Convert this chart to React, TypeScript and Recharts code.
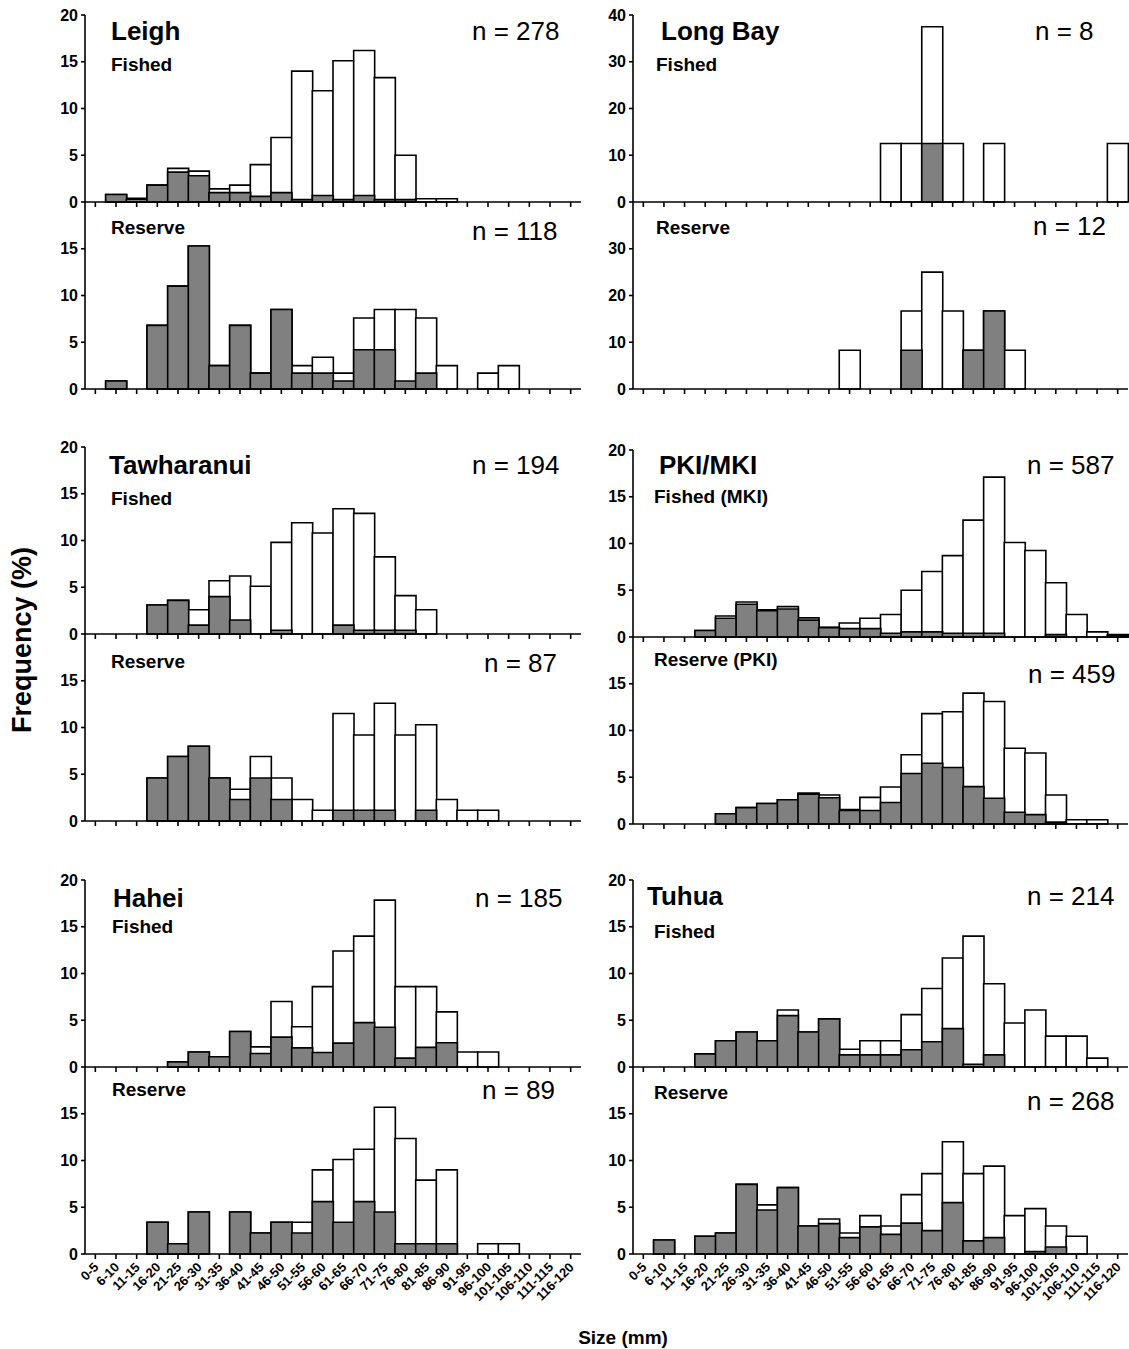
import React from 'react';
import { BarChart, Bar, XAxis, YAxis } from 'recharts';

const sizeClasses = ['0-5','6-10','11-15','16-20','21-25','26-30','31-35','36-40','41-45','46-50','51-55','56-60','61-65','66-70','71-75','76-80','81-85','86-90','91-95','96-100','101-105','106-110','111-115','116-120'];

// white bar = total frequency (%), grey bar = overlaid portion
const leighFishedTotal = [0,0.8,0.4,1.8,3.6,3.3,1.4,1.8,4.0,6.9,14.0,11.9,15.1,16.2,13.3,5.0,0.35,0.35,0,0,0,0,0,0];
const leighFishedGrey = [0,0.8,0.3,1.8,3.2,2.8,1.0,1.0,0.6,1.0,0.25,0.7,0.25,0.7,0.25,0.25,0,0,0,0,0,0,0,0];
const leighReserveTotal = [0,0.85,0,6.8,11.0,15.3,2.5,6.8,1.7,8.5,2.5,3.4,1.7,7.6,8.5,8.5,7.6,2.5,0,1.7,2.5,0,0,0];
const leighReserveGrey = [0,0.85,0,6.8,11.0,15.3,2.5,6.8,1.7,8.5,1.7,1.7,0.85,4.2,4.2,0.85,1.7,0,0,0,0,0,0,0];

const longBayFishedTotal = [0,0,0,0,0,0,0,0,0,0,0,0,12.5,12.5,37.5,12.5,0,12.5,0,0,0,0,0,12.5];
const longBayFishedGrey = [0,0,0,0,0,0,0,0,0,0,0,0,0,0,12.5,0,0,0,0,0,0,0,0,0];
const longBayReserveTotal = [0,0,0,0,0,0,0,0,0,0,8.3,0,0,16.7,25,16.7,8.3,16.7,8.3,0,0,0,0,0];
const longBayReserveGrey = [0,0,0,0,0,0,0,0,0,0,0,0,0,8.3,0,0,8.3,16.7,0,0,0,0,0,0];

const tawFishedTotal = [0,0,0,3.1,3.6,2.6,5.7,6.2,5.1,9.8,11.9,10.8,13.4,12.9,8.25,4.1,2.6,0,0,0,0,0,0,0];
const tawFishedGrey = [0,0,0,3.1,3.6,0.95,4.0,1.5,0,0.4,0,0,0.95,0.4,0.4,0.4,0,0,0,0,0,0,0,0];
const tawReserveTotal = [0,0,0,4.6,6.9,8.0,4.6,3.4,6.9,4.6,2.3,1.15,11.5,9.2,12.6,9.2,10.3,2.3,1.15,1.15,0,0,0,0];
const tawReserveGrey = [0,0,0,4.6,6.9,8.0,4.6,2.3,4.6,2.3,0,0,1.15,1.15,1.15,0,1.15,0,0,0,0,0,0,0];

const pkiFishedTotal = [0,0,0,0.7,2.25,3.75,2.9,3.25,2.05,1.05,1.5,2.0,2.4,5.0,7.0,8.7,12.5,17.1,10.1,9.25,5.8,2.4,0.55,0.25];
const pkiFishedGrey = [0,0,0,0.7,2.0,3.5,2.8,3.0,1.8,1.0,0.9,0.9,0.4,0.55,0.55,0.4,0.4,0.4,0,0,0.25,0,0,0.15];
const pkiReserveTotal = [0,0,0,0,1.1,1.75,2.2,2.6,3.3,3.1,1.55,2.85,3.95,7.4,11.8,12.0,14.0,13.1,8.1,7.6,3.1,0.45,0.45,0];
const pkiReserveGrey = [0,0,0,0,1.1,1.75,2.2,2.6,3.2,2.8,1.45,1.45,2.3,5.4,6.5,6.05,4.0,2.75,1.25,1.0,0.2,0,0,0];

const haheiFishedTotal = [0,0,0,0,0.55,1.6,1.1,3.8,2.15,7.0,4.3,8.6,12.4,14.0,17.85,8.6,8.6,5.9,1.6,1.6,0,0,0,0];
const haheiFishedGrey = [0,0,0,0,0.55,1.6,1.1,3.8,1.45,3.2,2.05,1.55,2.55,4.75,4.25,0.95,2.1,2.6,0,0,0,0,0,0];
const haheiReserveTotal = [0,0,0,3.4,1.1,4.5,0,4.5,2.25,3.4,3.4,9.0,10.1,11.2,15.7,12.35,7.9,9.0,0,1.1,1.1,0,0,0];
const haheiReserveGrey = [0,0,0,3.4,1.1,4.5,0,4.5,2.25,3.4,2.25,5.6,3.4,5.6,4.5,1.1,1.1,1.1,0,0,0,0,0,0];

const tuhuaFishedTotal = [0,0,0,1.4,2.8,3.75,2.8,6.1,3.75,5.15,1.9,2.8,2.8,5.6,8.4,11.65,14.0,8.9,4.7,6.1,3.3,3.3,0.95,0];
const tuhuaFishedGrey = [0,0,0,1.4,2.8,3.75,2.8,5.5,3.75,5.15,1.3,1.3,1.3,1.85,2.7,4.1,0.3,1.3,0,0,0,0,0,0];
const tuhuaReserveTotal = [0,1.5,0,1.9,2.25,7.45,5.25,7.1,3.0,3.75,2.25,4.1,3.0,6.35,8.6,12.0,8.6,9.4,4.1,4.85,3.0,1.9,0,0];
const tuhuaReserveGrey = [0,1.5,0,1.9,2.25,7.45,4.7,7.1,3.0,3.25,1.75,2.9,2.1,3.3,2.5,5.5,1.4,1.75,0,0.25,0.75,0,0,0];

const ticks20Top = [0, 5, 10, 15, 20];
const ticks20 = [0, 5, 10, 15];
const ticks40Top = [0, 10, 20, 30, 40];
const ticks40 = [0, 10, 20, 30];

const FONT = '"Liberation Sans", Arial, Helvetica, sans-serif';
const Y_W = 50;
const PAD_T = 14;
const PAD_R = 2;

function XTick(props: any) {
  const { x, y, payload } = props;
  const ax = x + 4;
  const ay = y + 7;
  return (
    <text
      x={ax}
      y={ay}
      transform={`rotate(-45, ${ax}, ${ay})`}
      textAnchor="end"
      fontSize={13}
      fontWeight="bold"
      fontFamily={FONT}
      fill="#000"
    >
      {payload.value}
    </text>
  );
}

const EmptyTick = () => <g />;

type PanelProps = {
  left: number;
  top: number;
  plotW: number;
  plotH: number;
  totals: number[];
  greys: number[];
  yMax: number;
  yTicks: number[];
  showLabels?: boolean;
};

function Panel({ left, top, plotW, plotH, totals, greys, yMax, yTicks, showLabels }: PanelProps) {
  const data = sizeClasses.map((c, i) => ({
    size: c,
    total: totals[i] > 0 ? totals[i] : null,
    grey: greys[i] > 0 ? greys[i] : null,
  }));
  const xh = showLabels ? 75 : 12;
  return (
    <div style={{ position: 'absolute', left: left - Y_W, top: top - PAD_T }}>
      <BarChart
        width={Y_W + plotW + PAD_R}
        height={PAD_T + plotH + xh}
        data={data}
        margin={{ top: PAD_T, right: PAD_R, bottom: 0, left: 0 }}
        barCategoryGap={0}
        barGap={0}
      >
        <XAxis
          xAxisId="a"
          dataKey="size"
          interval={0}
          height={xh}
          tickSize={5}
          axisLine={{ stroke: '#000', strokeWidth: 1.6 }}
          tickLine={{ stroke: '#000', strokeWidth: 1.6 }}
          tick={showLabels ? XTick : EmptyTick}
        />
        <XAxis xAxisId="b" dataKey="size" hide />
        <YAxis
          domain={[0, yMax]}
          ticks={yTicks}
          interval={0}
          width={Y_W}
          tickSize={4}
          tickMargin={3}
          axisLine={{ stroke: '#000', strokeWidth: 1.6 }}
          tickLine={{ stroke: '#000', strokeWidth: 1.6 }}
          tick={{ fontSize: 16, fontWeight: 'bold', fill: '#000', fontFamily: FONT }}
        />
        <Bar xAxisId="a" dataKey="total" fill="#ffffff" stroke="#000" strokeWidth={1.6} isAnimationActive={false} />
        <Bar xAxisId="b" dataKey="grey" fill="#808080" stroke="#000" strokeWidth={1.6} isAnimationActive={false} />
      </BarChart>
    </div>
  );
}

const LX = 85;
const LW = 496;
const RX = 633;
const RW = 495;
const PH = 187;

export default function App() {
  const site = { fontFamily: FONT, fontSize: 26, fontWeight: 'bold' as const, fill: '#000' };
  const sub = { fontFamily: FONT, fontSize: 19, fontWeight: 'bold' as const, fill: '#000' };
  const nlab = { fontFamily: FONT, fontSize: 26, fill: '#000' };
  return (
    <div style={{ position: 'absolute', left: 0, top: 0, width: 1129, height: 1349, background: '#fff', overflow: 'hidden' }}>
      <Panel left={LX} top={15} plotW={LW} plotH={PH} totals={leighFishedTotal} greys={leighFishedGrey} yMax={20} yTicks={ticks20Top} />
      <Panel left={LX} top={202} plotW={LW} plotH={PH} totals={leighReserveTotal} greys={leighReserveGrey} yMax={20} yTicks={ticks20} />
      <Panel left={RX} top={15} plotW={RW} plotH={PH} totals={longBayFishedTotal} greys={longBayFishedGrey} yMax={40} yTicks={ticks40Top} />
      <Panel left={RX} top={202} plotW={RW} plotH={PH} totals={longBayReserveTotal} greys={longBayReserveGrey} yMax={40} yTicks={ticks40} />

      <Panel left={LX} top={447} plotW={LW} plotH={PH} totals={tawFishedTotal} greys={tawFishedGrey} yMax={20} yTicks={ticks20Top} />
      <Panel left={LX} top={634} plotW={LW} plotH={PH} totals={tawReserveTotal} greys={tawReserveGrey} yMax={20} yTicks={ticks20} />
      <Panel left={RX} top={450} plotW={RW} plotH={PH} totals={pkiFishedTotal} greys={pkiFishedGrey} yMax={20} yTicks={ticks20Top} />
      <Panel left={RX} top={637} plotW={RW} plotH={PH} totals={pkiReserveTotal} greys={pkiReserveGrey} yMax={20} yTicks={ticks20} />

      <Panel left={LX} top={880} plotW={LW} plotH={PH} totals={haheiFishedTotal} greys={haheiFishedGrey} yMax={20} yTicks={ticks20Top} />
      <Panel left={LX} top={1067} plotW={LW} plotH={PH} totals={haheiReserveTotal} greys={haheiReserveGrey} yMax={20} yTicks={ticks20} showLabels />
      <Panel left={RX} top={880} plotW={RW} plotH={PH} totals={tuhuaFishedTotal} greys={tuhuaFishedGrey} yMax={20} yTicks={ticks20Top} />
      <Panel left={RX} top={1067} plotW={RW} plotH={PH} totals={tuhuaReserveTotal} greys={tuhuaReserveGrey} yMax={20} yTicks={ticks20} showLabels />

      <svg width={1129} height={1349} style={{ position: 'absolute', left: 0, top: 0, pointerEvents: 'none' }}>
        <text x={111} y={40} {...site}>Leigh</text>
        <text x={111} y={71} {...sub}>Fished</text>
        <text x={472} y={40} {...nlab}>n = 278</text>
        <text x={111} y={234} {...sub}>Reserve</text>
        <text x={472} y={240} {...nlab}>n = 118</text>

        <text x={661} y={40} {...site}>Long Bay</text>
        <text x={656} y={71} {...sub}>Fished</text>
        <text x={1035} y={40} {...nlab}>n = 8</text>
        <text x={656} y={234} {...sub}>Reserve</text>
        <text x={1033} y={235} {...nlab}>n = 12</text>

        <text x={109} y={474} {...site}>Tawharanui</text>
        <text x={111} y={505} {...sub}>Fished</text>
        <text x={472} y={474} {...nlab}>n = 194</text>
        <text x={111} y={668} {...sub}>Reserve</text>
        <text x={484} y={672} {...nlab}>n = 87</text>

        <text x={659} y={474} {...site}>PKI/MKI</text>
        <text x={654} y={503} {...sub}>Fished (MKI)</text>
        <text x={1027} y={474} {...nlab}>n = 587</text>
        <text x={654} y={666} {...sub}>Reserve (PKI)</text>
        <text x={1028} y={683} {...nlab}>n = 459</text>

        <text x={113} y={907} {...site}>Hahei</text>
        <text x={112} y={933} {...sub}>Fished</text>
        <text x={475} y={907} {...nlab}>n = 185</text>
        <text x={112} y={1096} {...sub}>Reserve</text>
        <text x={482} y={1099} {...nlab}>n = 89</text>

        <text x={647} y={905} {...site}>Tuhua</text>
        <text x={654} y={938} {...sub}>Fished</text>
        <text x={1027} y={905} {...nlab}>n = 214</text>
        <text x={654} y={1099} {...sub}>Reserve</text>
        <text x={1027} y={1110} {...nlab}>n = 268</text>

        <text x={0} y={0} transform="translate(31, 640) rotate(-90)" textAnchor="middle" fontFamily={FONT} fontSize={27} fontWeight="bold" fill="#000">Frequency (%)</text>
        <text x={623} y={1344} textAnchor="middle" fontFamily={FONT} fontSize={19} fontWeight="bold" fill="#000">Size (mm)</text>
      </svg>
    </div>
  );
}
